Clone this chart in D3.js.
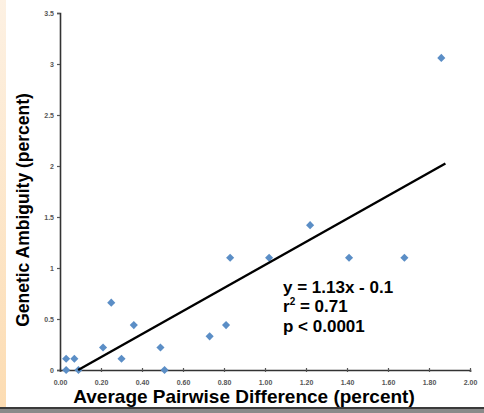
<!DOCTYPE html>
<html lang="en">
<head>
	<meta charset="utf-8">
	<title>Genetic Ambiguity vs Average Pairwise Difference</title>
	<script src="https://d3js.org/d3.v7.min.js"></script>
	<style>
		body { margin: 0; background: #fff; }
		svg { display: block; font-family: "Liberation Sans", Arial, sans-serif; }
	</style>
</head>
<body>
	<div id="chart"></div>
	<script>
		// data
		var pairwiseDiff = [0.03, 0.07, 0.03, 0.09, 0.21, 0.25, 0.30, 0.36, 0.49, 0.51, 0.73, 0.81, 0.83, 1.02, 1.22, 1.41, 1.68, 1.86];
		var ambiguity    = [0.11, 0.11, 0.00, 0.00, 0.22, 0.66, 0.11, 0.44, 0.22, 0.00, 0.33, 0.44, 1.10, 1.10, 1.42, 1.10, 1.10, 3.06];
		var xTicks = [0, 0.2, 0.4, 0.6, 0.8, 1.0, 1.2, 1.4, 1.6, 1.8, 2.0];
		var yTicks = [0, 0.5, 1, 1.5, 2, 2.5, 3, 3.5];
		var fitSlope = 1.13;
		var fitIntercept = -0.1;
		var fitRange = [0.1 / 1.13, 1.88];
		var statsLines = ["y = 1.13x - 0.1", "r2 = 0.71", "p < 0.0001"];

		var width = 484;
		var height = 413;

		var svg = d3.select("#chart").append("svg")
			.attr("width", width)
			.attr("height", height);

		// slide background bits: peach strip on the left, dark bar at the bottom
		var grad = svg.append("defs").append("linearGradient")
			.attr("id", "strip")
			.attr("x1", "0%").attr("y1", "0%")
			.attr("x2", "0%").attr("y2", "100%");
		grad.append("stop").attr("offset", "0%").attr("stop-color", "#fdf1e3");
		grad.append("stop").attr("offset", "100%").attr("stop-color", "#fcdcb2");
		svg.append("rect")
			.attr("x", 0).attr("y", 0)
			.attr("width", 6).attr("height", 407)
			.attr("fill", "url(#strip)");
		svg.append("rect")
			.attr("x", 0).attr("y", 407)
			.attr("width", width).attr("height", 2)
			.attr("fill", "#3a3a3a");
		svg.append("rect")
			.attr("x", 0).attr("y", 409)
			.attr("width", width).attr("height", 4)
			.attr("fill", "#8a8a8a");

		var x = d3.scaleLinear().domain([0, 2]).range([60, 470]);
		var y = d3.scaleLinear().domain([0, 3.5]).range([370, 13]);

		// x axis
		var xAxis = svg.append("g")
			.attr("transform", "translate(0," + y(0) + ")")
			.call(d3.axisBottom(x).tickValues(xTicks).tickSize(2).tickPadding(8)
				.tickFormat(d3.format(".2f")));
		// y axis
		var yAxis = svg.append("g")
			.attr("transform", "translate(" + x(0) + ",0)")
			.call(d3.axisLeft(y).tickValues(yTicks).tickSize(3).tickPadding(3)
				.tickFormat(function(d) { return d; }));

		[xAxis, yAxis].forEach(function(ax) {
			ax.select(".domain").attr("stroke", "#333").attr("stroke-width", 1.6);
			ax.selectAll(".tick line").attr("stroke", "#555").attr("stroke-width", 1.2);
			ax.selectAll(".tick text")
				.attr("fill", "#555")
				.style("font-size", "7px")
				.style("font-weight", "bold")
				.style("font-family", "'Liberation Sans', Arial, sans-serif");
		});
		xAxis.selectAll(".tick line").attr("y1", -2);

		// points
		svg.append("g").selectAll("path")
			.data(pairwiseDiff)
			.enter().append("path")
			.attr("d", d3.symbol().type(d3.symbolDiamond2).size(42))
			.attr("transform", function(d, i) {
				return "translate(" + x(d) + "," + y(ambiguity[i]) + ")";
			})
			.attr("fill", "#5b8ec6");

		// regression line
		svg.append("path")
			.datum(fitRange)
			.attr("fill", "none")
			.attr("stroke", "#000")
			.attr("stroke-width", 2.4)
			.attr("d", d3.line()
				.x(function(d) { return x(d); })
				.y(function(d) { return y(fitSlope * d + fitIntercept); }));

		// stats text
		var stats = svg.append("g")
			.attr("font-size", 17)
			.attr("font-weight", "bold");
		stats.append("text").attr("x", 283).attr("y", 293).text(statsLines[0]);
		var r2 = stats.append("text").attr("x", 283).attr("y", 312);
		r2.append("tspan").text("r");
		r2.append("tspan").attr("font-size", 10).attr("dy", -7).text("2");
		r2.append("tspan").attr("dy", 7).text(" = 0.71");
		stats.append("text").attr("x", 283).attr("y", 332).text(statsLines[2]);

		// axis titles
		svg.append("text")
			.attr("x", 244)
			.attr("y", 403)
			.attr("text-anchor", "middle")
			.attr("font-size", 19)
			.attr("font-weight", "bold")
			.text("Average Pairwise Difference (percent)");
		svg.append("text")
			.attr("transform", "translate(29,210) rotate(-90)")
			.attr("text-anchor", "middle")
			.attr("font-size", 17.5)
			.attr("font-weight", "bold")
			.text("Genetic Ambiguity (percent)");
	</script>
</body>
</html>
